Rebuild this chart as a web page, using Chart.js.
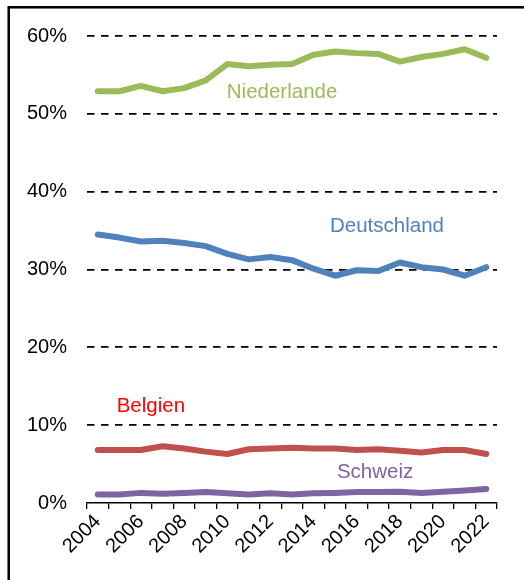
<!DOCTYPE html>
<html>
<head>
<meta charset="utf-8">
<script src="https://cdn.jsdelivr.net/npm/chart.js@4/dist/chart.umd.min.js"></script>
<style>
  html, body { margin: 0; padding: 0; background: #fff; }
  #wrap { width: 524px; height: 580px; position: relative; }
</style>
</head>
<body>
<div id="wrap"><canvas id="c" width="524" height="580"></canvas></div>
<script>
const years = ['2004','2005','2006','2007','2008','2009','2010','2011','2012','2013','2014','2015','2016','2017','2018','2019','2020','2021','2022'];
const niederlande = [52.9, 52.9, 53.6, 52.9, 53.3, 54.3, 56.4, 56.1, 56.3, 56.4, 57.6, 58.0, 57.8, 57.7, 56.7, 57.3, 57.7, 58.3, 57.2];
const deutschland = [34.5, 34.1, 33.6, 33.7, 33.4, 33.0, 32.0, 31.3, 31.6, 31.2, 30.1, 29.2, 29.9, 29.8, 30.9, 30.3, 30.0, 29.2, 30.3];
const belgien     = [6.8, 6.8, 6.8, 7.3, 7.0, 6.6, 6.3, 6.9, 7.0, 7.1, 7.0, 7.0, 6.8, 6.9, 6.7, 6.5, 6.8, 6.8, 6.3];
const schweiz     = [1.1, 1.1, 1.3, 1.2, 1.3, 1.4, 1.25, 1.1, 1.25, 1.1, 1.25, 1.3, 1.4, 1.4, 1.45, 1.3, 1.45, 1.6, 1.8];
const yTicks = [0, 10, 20, 30, 40, 50, 60];

const FONT = "'Liberation Sans', Arial, sans-serif";

const seriesLabels = [
  { text: 'Niederlande', color: '#9BBB59', x: 8.54, y: 52.8 },
  { text: 'Deutschland', color: '#4F81BD', x: 13.4, y: 35.5 },
  { text: 'Belgien',     color: '#FF0000', x: 2.46, y: 12.4 },
  { text: 'Schweiz',     color: '#8064A2', x: 12.85, y: 3.9 }
];

const framePlugin = {
  id: 'frame',
  beforeDraw(chart) {
    const ctx = chart.ctx;
    ctx.save();
    ctx.fillStyle = '#fff';
    ctx.fillRect(0, 0, chart.width, chart.height);
    ctx.strokeStyle = '#000';
    ctx.lineWidth = 2.5;
    ctx.strokeRect(8.7, 7.3, chart.width + 20, chart.height + 20);
    ctx.restore();
  }
};

const labelPlugin = {
  id: 'seriesLabels',
  afterDatasetsDraw(chart) {
    const ctx = chart.ctx;
    const xs = chart.scales.x, ys = chart.scales.y;
    ctx.save();
    ctx.font = '20.5px ' + FONT;
    ctx.textAlign = 'center';
    ctx.textBaseline = 'middle';
    seriesLabels.forEach(l => {
      ctx.fillStyle = l.color;
      ctx.fillText(l.text, xs.getPixelForValue(l.x), ys.getPixelForValue(l.y));
    });
    ctx.restore();
  }
};

function ds(label, data, color) {
  return {
    label, data,
    borderColor: color,
    backgroundColor: color,
    borderWidth: 6,
    pointRadius: 0,
    tension: 0,
    borderCapStyle: 'round',
    borderJoinStyle: 'round',
    fill: false
  };
}

new Chart(document.getElementById('c'), {
  type: 'line',
  data: {
    labels: years,
    datasets: [
      ds('Niederlande', niederlande, '#9BBB59'),
      ds('Deutschland', deutschland, '#4F81BD'),
      ds('Belgien', belgien, '#C0504D'),
      ds('Schweiz', schweiz, '#8064A2')
    ]
  },
  options: {
    responsive: false,
    animation: false,
    devicePixelRatio: 1,
    layout: { padding: { left: 0, right: 27, top: 36, bottom: 0 } },
    plugins: { legend: { display: false }, tooltip: { enabled: false } },
    scales: {
      x: {
        offset: true,
        grid: {
          offset: true,
          drawOnChartArea: false,
          drawTicks: true,
          tickLength: 6,
          color: '#000',
          lineWidth: 1.3
        },
        border: { display: true, color: '#000', width: 1.5 },
        ticks: {
          autoSkip: false,
          maxRotation: 45,
          minRotation: 45,
          padding: 1,
          color: '#000',
          font: { family: FONT, size: 20 },
          callback: function(v, i) { return i % 2 === 0 ? years[i] : ''; }
        },
        afterFit(scale) { scale.height = 580 - 503; }
      },
      y: {
        min: 0, max: 60,
        afterBuildTicks(scale) { scale.ticks = yTicks.map(v => ({ value: v })); },
        grid: {
          drawTicks: false,
          color: ctx => ctx.tick && ctx.tick.value === 0 ? 'rgba(0,0,0,0)' : '#000',
          lineWidth: 1.8
        },
        border: { display: false, dash: [7.5, 6.5] },
        ticks: {
          padding: 20,
          color: '#000',
          font: { family: FONT, size: 20 },
          callback: v => v + '%'
        },
        afterFit(scale) { scale.width = 87; }
      }
    }
  },
  plugins: [framePlugin, labelPlugin]
});
</script>
</body>
</html>
